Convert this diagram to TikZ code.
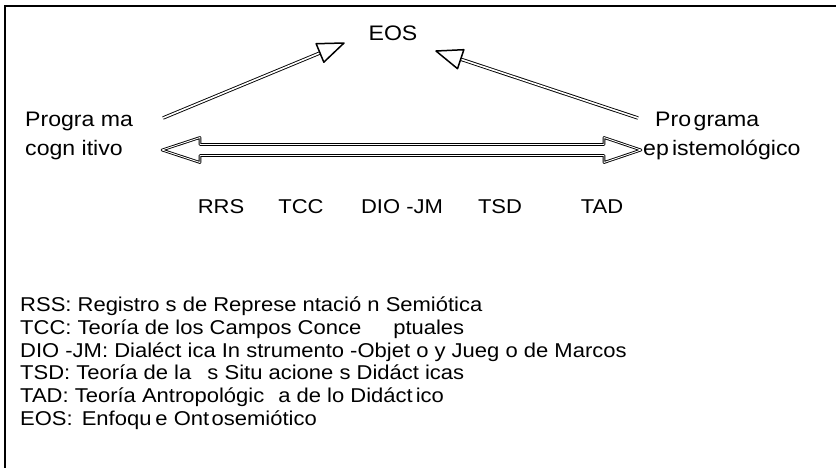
\documentclass[tikz,border=0pt]{standalone}
\usepackage{fontspec}
\setmainfont{Liberation Sans}
\newfontfamily\widefont[FakeStretch=1.1]{Liberation Sans}
\usetikzlibrary{calc}
\begin{document}
\begin{tikzpicture}[x=1pt,y=-1pt,
  lbl/.style={font=\widefont\fontsize{20}{21}\selectfont, inner sep=0pt},
  toplbl/.style={font=\widefont\fontsize{21}{22}\selectfont, inner sep=0pt, anchor=base west},
  leg/.style={lbl, anchor=base west},
  shaft/.style={draw, line width=0.9pt, double=white, double distance=1.6pt},
  headst/.style={draw, line width=1.5pt, line join=round, fill=white},
  dbl/.style={draw, line width=0.9pt, double=white, double distance=0.9pt, line join=round}]
\useasboundingbox (0,0) rectangle (836,467);
\draw[line width=2pt] (5,475) -- (5,6) -- (845,6);
% top
\node[lbl, font=\widefont\fontsize{21}{22}\selectfont] (eos) at (393,33) {EOS};
\node[toplbl] (pc1) at (25,126) {Progra ma};
\node[toplbl] (pc2) at (25,155) {cogn itivo};
\node[toplbl] (pe1) at (655,126) {Pro\hspace{0.12em}grama};
\node[toplbl] (pe2) at (643,155) {ep\hspace{0.15em}istemológico};
% row
\node[lbl] (rrs) at (221,207) {RRS};
\node[lbl] (tcc) at (301,207) {TCC};
\node[lbl] (dio) at (402,207) {DIO -JM};
\node[lbl] (tsd) at (500,207) {TSD};
\node[lbl] (tad) at (602,207) {TAD};
% legend
\node[leg] (l1) at (20,311) {RSS: Registro s de Represe ntació n Semiótica};
\node[leg] (l2) at (20,334) {TCC: Teoría de los Campos Conce\hspace{1.6em}ptuales};
\node[leg] (l3) at (20,357) {DIO -JM: Dialéct ica In strumento -Objet o y Jueg o de Marcos};
\node[leg] (l4) at (20,379) {TSD: Teoría de la\hspace{0.5em} s Situ acione s Didáct icas};
\node[leg] (l5) at (20,402) {TAD: Teoría Antropológic\hspace{0.7em}a de lo Didáct\hspace{0.15em}ico};
\node[leg] (l6) at (20,425) {EOS:\hspace{0.45em}Enfoqu\hspace{0.2em}e Ont\hspace{0.12em}osemiótico};
% diagonal arrows
\coordinate (t1) at (163,118);
\coordinate (h1) at (344,43);
\coordinate (b1) at ($(h1)!26pt!(t1)$);
\draw[shaft] (t1) -- (b1);
\draw[headst] (h1) -- ($(b1)!10pt!90:(h1)$) -- ($(b1)!10pt!-90:(h1)$) -- cycle;
\coordinate (t2) at (638,118);
\coordinate (h2) at (436,51);
\coordinate (b2) at ($(h2)!26pt!(t2)$);
\draw[shaft] (t2) -- (b2);
\draw[headst] (h2) -- ($(b2)!10pt!90:(h2)$) -- ($(b2)!10pt!-90:(h2)$) -- cycle;
% double arrow
\coordinate (L) at (162,150);
\coordinate (R) at (641,150);
\draw[dbl] (L) -- ($(L)+(38,-12.5)$) -- ($(L)+(38,-5.5)$) -- ($(R)+(-37,-5.5)$) -- ($(R)+(-37,-12.5)$) -- (R)
  -- ($(R)+(-37,12.5)$) -- ($(R)+(-37,5.5)$) -- ($(L)+(38,5.5)$) -- ($(L)+(38,12.5)$) -- cycle;
\end{tikzpicture}
\end{document}
